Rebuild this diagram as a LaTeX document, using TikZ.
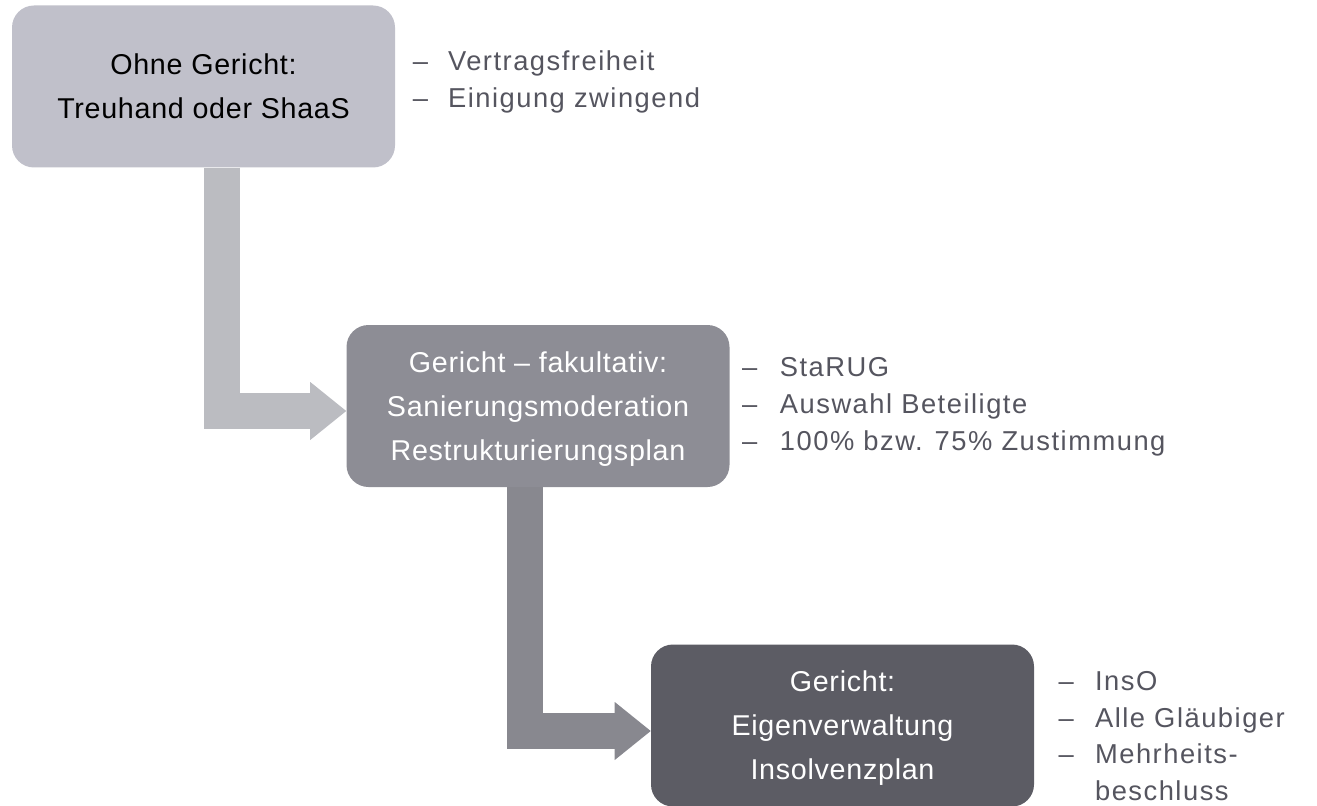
\documentclass[tikz,border=0pt]{standalone}
\usepackage{fontspec}
\usepackage{xcolor}
\setmainfont{Liberation Sans}
\newfontfamily\boxfont[LetterSpace=2.5]{Liberation Sans}
\newfontfamily\listfont[LetterSpace=5.5]{Liberation Sans}
\usetikzlibrary{positioning,arrows.meta,calc}
\definecolor{stageA}{RGB}{192,192,202}
\definecolor{stageB}{RGB}{141,141,149}
\definecolor{stageC}{RGB}{92,92,100}
\definecolor{arrowA}{RGB}{187,188,193}
\definecolor{arrowB}{RGB}{136,136,143}
\definecolor{listgray}{RGB}{85,85,95}

\begin{document}
\begin{tikzpicture}[x=0.75pt,y=-0.75pt,
	stage/.style={rounded corners=16.5pt,minimum width=287.25pt,minimum height=121.5pt,
		align=center,inner sep=0pt,text depth=0pt,font=\boxfont\fontsize{21.5}{33}\selectfont},
	notes/.style={anchor=west,align=left,inner sep=0pt,text=listgray,
		font=\listfont\fontsize{20.5}{27.5}\selectfont},
	flow/.style={line width=27pt,-{Triangle[length=27pt,width=43.5pt,line width=0pt]}}]
			\useasboundingbox (0,0) rectangle (1317,806);
			% Stufen
			\node[stage,fill=stageA,text=black] (ohne) at (203.5,86.5){Ohne Gericht:\\Treuhand oder ShaaS};
			\node[stage,fill=stageB,text=white] (fakult) at (538,406){Gericht – fakultativ:\\Sanierungsmoderation\\Restrukturierungsplan};
			\node[stage,fill=stageC,text=white] (insolv) at (842.5,725.5){Gericht:\\Eigenverwaltung\\Insolvenzplan};
			% Stichpunkte
			\node[notes,right=13pt of ohne,yshift=3.4pt] (n1){\begin{tabular}{@{}l@{\hspace{15pt}}l@{}}
				– & Vertragsfreiheit\\
				– & Einigung zwingend
			\end{tabular}};
			\node[notes,right=9pt of fakult] (n2){\begin{tabular}{@{}l@{\hspace{17pt}}l@{}}
				– & StaRUG\\
				– & Auswahl Beteiligte\\
				– & 100\% bzw. 75\% Zustimmung
			\end{tabular}};
			\node[notes,right=18pt of insolv,yshift=-9.4pt] (n3){\begin{tabular}{@{}l@{\hspace{16pt}}l@{}}
				– & InsO\\
				– & Alle Gläubiger\\
				– & Mehrheits-\\
				  & beschluss
			\end{tabular}};
			% Pfeile
			\draw[flow,draw=arrowA] ($(ohne.south)+(18.5,0)$) |- ($(fakult.west)+(0,5)$);
			\draw[flow,draw=arrowB] ($(fakult.south)+(-13,0)$) |- ($(insolv.west)+(0,5.5)$);
		\end{tikzpicture}
\end{document}
